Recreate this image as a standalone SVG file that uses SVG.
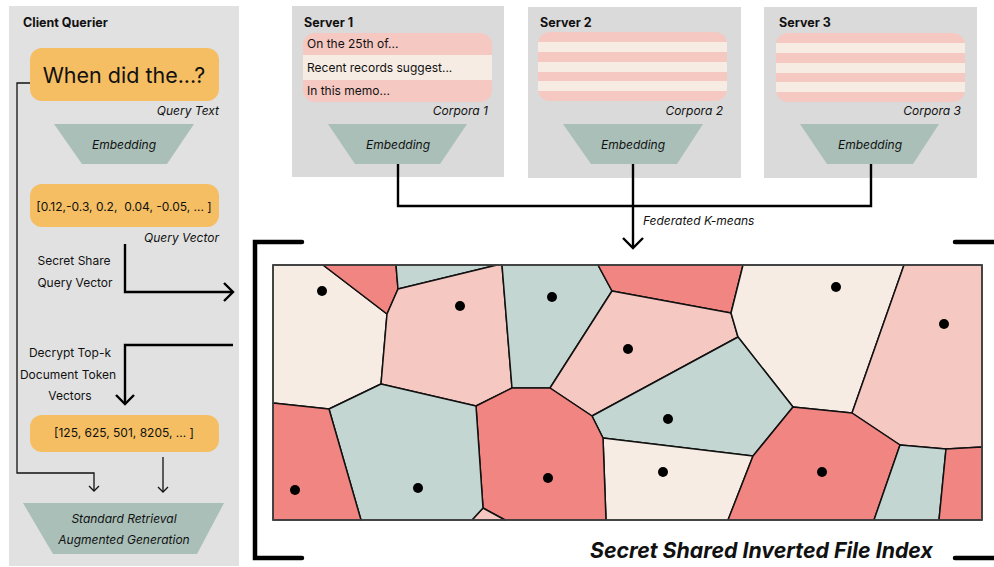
<svg xmlns="http://www.w3.org/2000/svg" width="994" height="567" viewBox="0 0 994 567">
<defs>
<style>
text{font-family:Inter,"Noto Sans","Liberation Sans",sans-serif;fill:#111}
.panel{fill:#E1E1E1}
.srv{fill:#DADADA}
.title{font-size:12.5px;font-weight:bold}
.it{font-style:italic;font-size:12px}
.lbl{font-size:12px}
.orange{fill:#F5BE62}
.emb{fill:#A9BFB8}
.pk{fill:#F5C8C2}
.cr{fill:#F6ECE3}
.rd{fill:#F18581}
.sg{fill:#C4D6D2}
.cells polygon{stroke:#111;stroke-width:1.5;stroke-linejoin:round}
.seed{fill:#000}
.thick{fill:none;stroke:#000;stroke-width:2.4}
.thin{fill:none;stroke:#111;stroke-width:1.3}
.brk{fill:none;stroke:#000;stroke-width:4.5;stroke-linecap:round}
</style>
<clipPath id="c1"><rect x="303" y="33" width="189" height="69" rx="12"/></clipPath>
<clipPath id="c2"><rect x="538" y="32" width="189" height="69" rx="12"/></clipPath>
<clipPath id="c3"><rect x="776" y="33" width="189" height="69" rx="12"/></clipPath>
</defs>
<rect width="994" height="567" fill="#fff"/>

<g id="client">
<rect class="panel" x="9" y="6" width="230" height="560"/>
<text class="title" x="23" y="27">Client Querier</text>
</g>

<g id="query-text">
<rect class="orange" x="30" y="48" width="189" height="53" rx="12"/>
<text x="124" y="83" font-size="21.5" text-anchor="middle">When did the...?</text>
<text class="it" x="219" y="115" text-anchor="end">Query Text</text>
</g>

<g id="client-embedding">
<polygon class="emb" points="54,124 194,124 167,164 82,164"/>
<text class="it" x="124" y="149" text-anchor="middle">Embedding</text>
</g>

<g id="query-vector">
<rect class="orange" x="30" y="184" width="189" height="43" rx="12"/>
<text class="lbl" x="124" y="211" text-anchor="middle" xml:space="preserve">[0.12,-0.3, 0.2,  0.04, -0.05, ... ]</text>
<text class="it" x="219" y="242" text-anchor="end">Query Vector</text>
</g>

<g id="topk">
<rect class="orange" x="30" y="415" width="189" height="37" rx="12"/>
<text class="lbl" x="124" y="437" text-anchor="middle">[125, 625, 501, 8205, ... ]</text>
</g>

<g id="rag">
<polygon class="emb" points="23,503 224,503 197,554 53,554"/>
<text class="it" x="124" y="523" text-anchor="middle">Standard Retrieval</text>
<text class="it" x="124" y="544" text-anchor="middle">Augmented Generation</text>
</g>

<g id="server1">
<rect class="srv" x="292" y="6" width="212" height="171"/>
<text class="title" x="304" y="27">Server 1</text>
<g clip-path="url(#c1)">
<rect class="pk" x="303" y="33" width="189" height="22"/>
<rect class="cr" x="303" y="55" width="189" height="25"/>
<rect class="pk" x="303" y="80" width="189" height="22"/>
</g>
<text class="lbl" x="307" y="48">On the 25th of...</text>
<text class="lbl" x="307" y="72">Recent records suggest...</text>
<text class="lbl" x="307" y="95">In this memo...</text>
<text class="it" x="488" y="115" text-anchor="end">Corpora 1</text>
<polygon class="emb" points="328,124 467,124 440,164 355,164"/>
<text class="it" x="398" y="149" text-anchor="middle">Embedding</text>
</g>

<g id="server2">
<rect class="srv" x="528" y="7" width="213" height="171"/>
<text class="title" x="540" y="27">Server 2</text>
<g clip-path="url(#c2)">
<rect class="pk" x="538" y="32" width="189" height="69"/>
<rect class="cr" x="538" y="42" width="189" height="10"/>
<rect class="cr" x="538" y="62" width="189" height="10"/>
<rect class="cr" x="538" y="81" width="189" height="10"/>
</g>
<text class="it" x="723" y="115" text-anchor="end">Corpora 2</text>
<polygon class="emb" points="563,124 703,124 677,164 591,164"/>
<text class="it" x="633" y="149" text-anchor="middle">Embedding</text>
</g>

<g id="server3">
<rect class="srv" x="764" y="7" width="213" height="171"/>
<text class="title" x="779" y="27">Server 3</text>
<g clip-path="url(#c3)">
<rect class="pk" x="776" y="33" width="189" height="69"/>
<rect class="cr" x="776" y="43" width="189" height="10"/>
<rect class="cr" x="776" y="63" width="189" height="10"/>
<rect class="cr" x="776" y="82" width="189" height="10"/>
</g>
<text class="it" x="961" y="115" text-anchor="end">Corpora 3</text>
<polygon class="emb" points="800,124 939,124 913,164 827,164"/>
<text class="it" x="870" y="149" text-anchor="middle">Embedding</text>
</g>

<g id="index">
<g class="cells">
<polygon class="cr" points="273,265 323,265 387,314 381,384 329,409 273,403"/>
<polygon class="rd" points="323,265 396,265 398,289 387,314"/>
<polygon class="sg" points="396,265 497,265 398,289"/>
<polygon class="pk" points="398,289 497,265 502,265 512,388 476,406 381,384 387,314"/>
<polygon class="sg" points="502,265 598,265 612,291 550,388 512,388"/>
<polygon class="rd" points="598,265 743,265 731,313 612,291"/>
<polygon class="pk" points="612,291 731,313 738,337 592,416 550,388"/>
<polygon class="cr" points="743,265 904,265 852,413 793,407 738,337 731,313"/>
<polygon class="pk" points="904,265 982,265 982,447 946,449 900,445 852,413"/>
<polygon class="sg" points="592,416 738,337 793,407 753,456 603,438"/>
<polygon class="cr" points="603,438 753,456 728,520 606,520"/>
<polygon class="rd" points="753,456 793,407 852,413 900,445 874,520 728,520"/>
<polygon class="sg" points="900,445 946,449 939,520 874,520"/>
<polygon class="rd" points="946,449 982,447 982,520 939,520"/>
<polygon class="rd" points="476,406 512,388 550,388 592,416 603,438 606,520 505,520 483,508"/>
<polygon class="pk" points="483,508 505,520 472,520"/>
<polygon class="sg" points="329,409 381,384 476,406 483,508 472,520 361,520"/>
<polygon class="rd" points="273,403 329,409 361,520 273,520"/>
</g>
<rect x="273" y="265" width="709" height="255" fill="none" stroke="#444" stroke-width="1.6"/>
<g class="seeds">
<circle class="seed" cx="322" cy="291" r="5"/>
<circle class="seed" cx="460" cy="306" r="5"/>
<circle class="seed" cx="552" cy="297" r="5"/>
<circle class="seed" cx="628" cy="349" r="5"/>
<circle class="seed" cx="836" cy="287" r="5"/>
<circle class="seed" cx="944" cy="324" r="5"/>
<circle class="seed" cx="668" cy="419" r="5"/>
<circle class="seed" cx="663" cy="472" r="5"/>
<circle class="seed" cx="822" cy="472" r="5"/>
<circle class="seed" cx="295" cy="490" r="5"/>
<circle class="seed" cx="418" cy="488" r="5"/>
<circle class="seed" cx="548" cy="478" r="5"/>
</g>
<path class="brk" d="M302,242 H255 V558 H302"/>
<path class="brk" d="M955,242 H996"/>
<path class="brk" d="M955,558 H996"/>
<text x="590" y="558" font-size="21.3" font-weight="bold" font-style="italic">Secret Shared Inverted File Index</text>
</g>

<g id="connectors">
<path class="thick" d="M398,164 V206 H871 V164"/>
<path class="thick" d="M633,164 V248"/>
<path class="thick" d="M623,238 L633,248 L643,238"/>
<text class="it" x="643" y="225">Federated K-means</text>

<path class="thick" d="M125,244 V292 H232"/>
<path class="thick" d="M224,283 L233,292 L224,301"/>
<text class="lbl" x="74" y="265" text-anchor="middle">Secret Share</text>
<text class="lbl" x="75" y="287" text-anchor="middle">Query Vector</text>

<path class="thick" d="M233,345 H125 V404"/>
<path class="thick" d="M116,395 L125,404 L134,395"/>
<text class="lbl" x="70" y="357" text-anchor="middle">Decrypt Top-k</text>
<text class="lbl" x="68" y="379" text-anchor="middle">Document Token</text>
<text class="lbl" x="70" y="400" text-anchor="middle">Vectors</text>

<path class="thin" d="M163,457 V492"/>
<path class="thin" d="M158,487 L163,492 L168,487"/>
<path class="thin" d="M30,83 H17 V473 H94 V491"/>
<path class="thin" d="M89,486 L94,491 L99,486"/>
</g>
</svg>
